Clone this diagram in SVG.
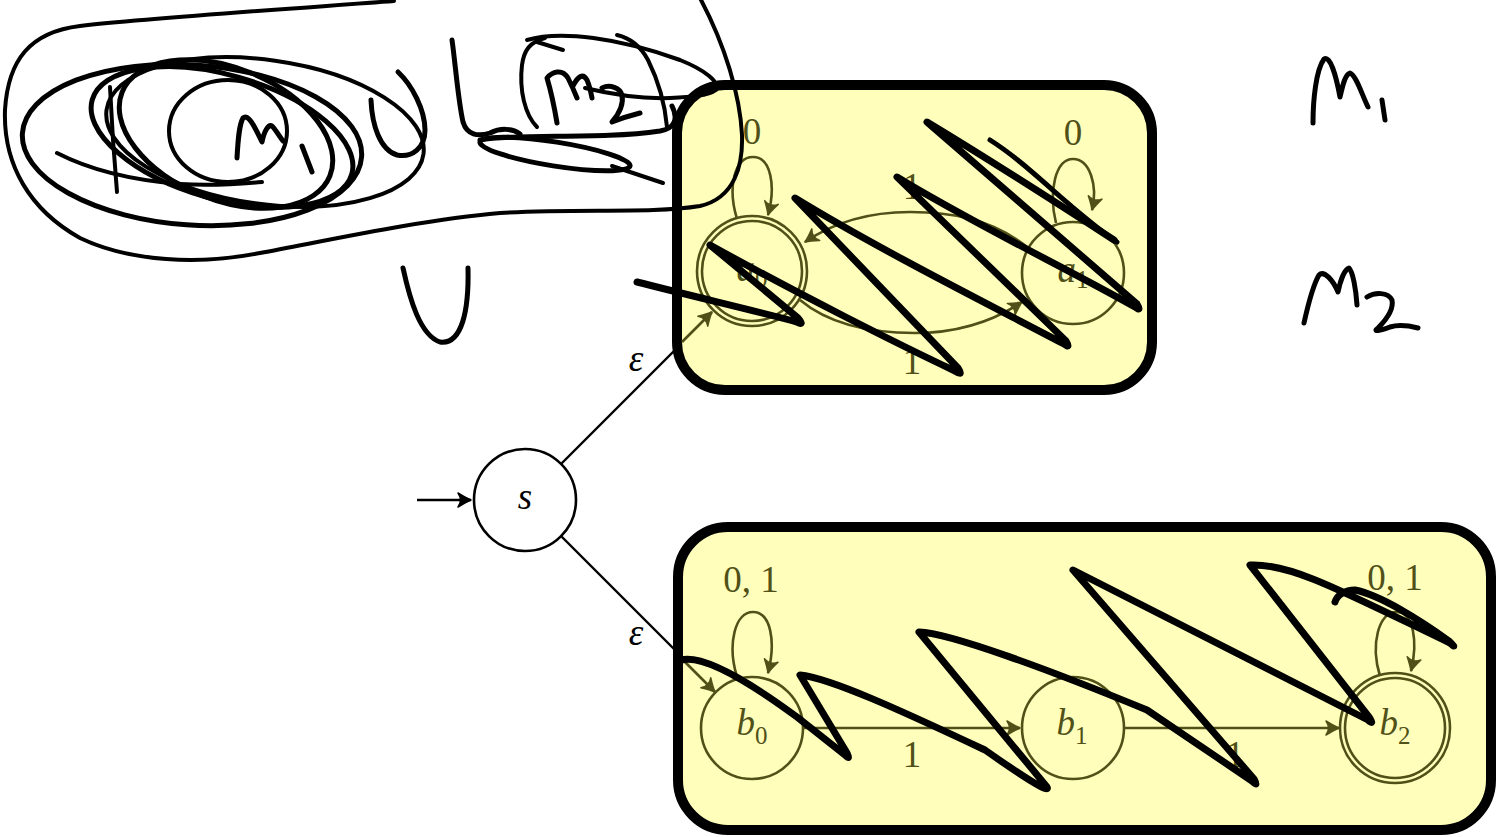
<svg xmlns="http://www.w3.org/2000/svg" width="1499" height="837" viewBox="0 0 1499 837">
<style>
.box{fill:#ffffbb;stroke:#000;stroke-width:10}
.st{fill:none;stroke:#505018;stroke-width:2.6}
.edge{fill:none;stroke:#505018;stroke-width:2.6}
.bedge{fill:none;stroke:#000;stroke-width:2.4}
.lbl{font-family:"Liberation Serif","DejaVu Serif",serif;font-size:37px;fill:#505018;text-anchor:middle}
.var{font-style:italic}
.blk{fill:#000}
.ink{fill:none;stroke:#000;stroke-linecap:round;stroke-linejoin:round}
.i4{stroke-width:4}
.i5{stroke-width:5}
.i7{stroke-width:7}
</style>
<defs>
<marker id="ao" viewBox="-15 -9 17 18" markerWidth="17" markerHeight="18" refX="0" refY="0" orient="auto" markerUnits="userSpaceOnUse">
<path d="M-13,-7 Q-5,-2 0,0 Q-5,2 -13,7 Q-8,0 -13,-7 Z" fill="#505018" stroke="#505018" stroke-width="1.5" stroke-linejoin="round"/>
</marker>
<marker id="ab" viewBox="-15 -9 17 18" markerWidth="17" markerHeight="18" refX="0" refY="0" orient="auto" markerUnits="userSpaceOnUse">
<path d="M-13,-7 Q-5,-2 0,0 Q-5,2 -13,7 Q-8,0 -13,-7 Z" fill="#000" stroke="#000" stroke-width="1.5" stroke-linejoin="round"/>
</marker>
</defs>
<rect width="1499" height="837" fill="#fff"/>

<g id="connectors-outer">
<line class="bedge" x1="417" y1="500" x2="471" y2="500" marker-end="url(#ab)"/>
<line class="bedge" x1="561" y1="464" x2="690" y2="335"/>
<line class="bedge" x1="561" y1="536" x2="690" y2="665"/>
</g>

<g id="box-m1"><rect class="box" x="677" y="85" width="475" height="305" rx="48"/></g>
<g id="box-m2"><rect class="box" x="678" y="527" width="813" height="303" rx="50"/></g>

<g id="connectors">
<line class="edge" x1="682" y1="342" x2="712" y2="312" marker-end="url(#ao)"/>
<line class="edge" x1="682" y1="659" x2="715" y2="692" marker-end="url(#ao)"/>
<path class="edge" d="M737,219 C727,186 735,157 753,157 C771,157 776,186 768,215" marker-end="url(#ao)"/>
<path class="edge" d="M1056,223 C1048,190 1056,159 1073,159 C1090,159 1098,186 1092,210" marker-end="url(#ao)"/>
<path class="edge" d="M1027,247 C990,218 950,212 910,212 C862,212 830,225 805,242" marker-end="url(#ao)"/>
<path class="edge" d="M800,300 C830,325 870,333 915,333 C960,333 995,320 1022,302" marker-end="url(#ao)"/>
<path class="edge" d="M737,677 C727,644 735,612 753,612 C771,612 776,642 768,673" marker-end="url(#ao)"/>
<path class="edge" d="M1380,676 C1370,644 1379,612 1396,612 C1414,612 1418,642 1411,671" marker-end="url(#ao)"/>
<line class="edge" x1="803" y1="728" x2="1020" y2="728" marker-end="url(#ao)"/>
<line class="edge" x1="1124" y1="728" x2="1339" y2="728" marker-end="url(#ao)"/>
<text class="lbl" x="752" y="144">0</text>
<text class="lbl" x="1073" y="145">0</text>
<text class="lbl" x="912" y="199">1</text>
<text class="lbl" x="912" y="374">1</text>
<text class="lbl" x="751" y="592">0, 1</text>
<text class="lbl" x="1395" y="590">0, 1</text>
<text class="lbl" x="912" y="767">1</text>
<text class="lbl" x="1235" y="767">1</text>
<text class="lbl blk var" x="636" y="371">ε</text>
<text class="lbl blk var" x="636" y="645">ε</text>
</g>

<g id="node-a0">
<circle class="st" cx="752" cy="271" r="55"/>
<circle class="st" cx="752" cy="271" r="50"/>
<text class="lbl" x="752" y="281"><tspan class="var">a</tspan><tspan font-size="25" dy="6">0</tspan></text>
</g>
<g id="node-a1">
<circle class="st" cx="1073" cy="273" r="51"/>
<text class="lbl" x="1073" y="282"><tspan class="var">a</tspan><tspan font-size="25" dy="6">1</tspan></text>
</g>
<g id="node-b0">
<circle class="st" cx="752" cy="728" r="51"/>
<text class="lbl" x="752" y="735"><tspan class="var">b</tspan><tspan font-size="25" dy="9">0</tspan></text>
</g>
<g id="node-b1">
<circle class="st" cx="1073" cy="728" r="51"/>
<text class="lbl" x="1072" y="735"><tspan class="var">b</tspan><tspan font-size="25" dy="9">1</tspan></text>
</g>
<g id="node-b2">
<circle class="st" cx="1395" cy="728" r="55"/>
<circle class="st" cx="1395" cy="728" r="50"/>
<text class="lbl" x="1395" y="735"><tspan class="var">b</tspan><tspan font-size="25" dy="9">2</tspan></text>
</g>
<g id="node-s">
<circle cx="525" cy="500" r="51" fill="#fff" stroke="#000" stroke-width="2.6"/>
<text class="lbl blk var" x="525" y="509">s</text>
</g>

<g id="ink">
<path class="ink i4" d="M394,1 C300,8 150,18 80,26 C30,32 8,60 5,110 C3,165 30,210 80,238 C130,262 200,265 260,253 C330,240 420,220 500,213 C580,208 650,214 700,206 C735,198 743,165 742,135 C740,95 725,45 700,-2"/>
<ellipse class="ink i5" cx="192" cy="145" rx="170" ry="80" transform="rotate(4 192 145)"/>
<ellipse class="ink i4" cx="265" cy="132" rx="160" ry="72" transform="rotate(8 265 132)"/>
<ellipse class="ink i5" cx="226" cy="134" rx="112" ry="66" transform="rotate(22 226 134)"/>
<ellipse class="ink i5" cx="222" cy="137" rx="135" ry="62" transform="rotate(16 222 137)"/>
<ellipse class="ink i4" cx="228" cy="131" rx="59" ry="51"/>
<path class="ink i4" d="M110,87 L113,140 L117,192"/>
<path class="ink i4" d="M57,153 C90,170 130,180 180,184 C210,186 240,184 262,182"/>
<path class="ink i5" d="M237,158 C238,140 239,125 243,118 C249,113 256,130 262,142 C264,132 268,124 272,126 C276,130 279,136 283,141"/>
<path class="ink i5" d="M302,146 L312,172"/>
<path class="ink i5" d="M371,100 C372,125 380,150 397,155 C412,158 425,148 425,130 C425,110 412,85 398,72"/>
<path class="ink i5" d="M403,268 C410,300 420,335 440,342 C462,345 469,310 468,268"/>
<path class="ink i5" d="M452,40 C455,60 458,100 463,122 C467,135 478,137 490,133 C500,128 512,128 520,134"/>
<path class="ink i5" d="M480,140 C520,133 600,140 660,131 C676,128 678,118 672,106"/>
<ellipse class="ink i5" cx="555" cy="154" rx="76" ry="12" transform="rotate(9 555 154)"/>
<path class="ink i4" d="M612,166 L663,183"/>
<path class="ink i4" d="M537,127 C525,115 519,90 522,65 C524,50 530,42 545,38"/>
<path class="ink i4" d="M537,42 L563,50"/>
<path class="ink i4" d="M527,40 C560,30 620,38 680,60 C705,70 720,82 716,90 C708,96 690,97 670,98 C640,99 610,94 585,88"/>
<path class="ink i5" d="M557,123 C554,105 550,88 547,78 C552,72 562,68 568,78 C572,86 575,93 577,98 M573,86 C578,76 583,73 587,80 C590,87 591,93 592,98"/>
<path class="ink i5" d="M602,88 C610,84 620,88 622,95 C624,105 618,115 612,122 C622,118 632,115 640,113"/>
<path class="ink i4" d="M617,35 C630,38 640,45 648,60 C658,80 665,105 667,127"/>
<path class="ink i5" d="M1313,123 C1313,100 1316,70 1324,59 C1330,55 1336,75 1340,97 C1342,90 1344,75 1350,73 C1356,75 1362,95 1368,107"/>
<path class="ink i5" d="M1382,100 L1385,120"/>
<path class="ink i5" d="M1304,323 C1308,305 1313,285 1319,275 C1324,270 1333,280 1338,292 C1340,282 1344,270 1349,268 C1353,272 1356,290 1357,305"/>
<path class="ink i5" d="M1367,297 C1375,292 1388,292 1392,300 C1394,310 1386,320 1378,328 C1372,332 1380,331 1390,327 C1400,324 1410,326 1418,328"/>
<path class="ink i7" d="M637,282 C700,298 760,312 797,322 Q805,326 798,318 L710,245 C800,295 900,345 955,371 Q964,377 958,368 L795,198 C880,250 990,305 1064,344 Q1071,349 1066,341 L897,177 C970,222 1070,270 1135,307 Q1142,312 1137,304 L927,122 C990,160 1060,205 1114,240"/>
<path class="ink i5" d="M1117,242 C1070,210 1030,165 990,140"/>
<path class="ink i7" d="M681,660 C700,655 740,675 797,717 L845,755 Q851,761 847,753 L800,675 C830,678 900,710 985,750 Q1052,797 1047,787 L919,632 C950,633 1050,670 1147,710 L1252,781 Q1259,788 1254,779 L1073,570 L1368,720 Q1375,726 1369,717 L1250,565 C1290,563 1340,590 1450,643 Q1458,650 1449,641 C1420,620 1380,595 1355,590 C1345,590 1337,595 1335,602"/>
</g>
</svg>
